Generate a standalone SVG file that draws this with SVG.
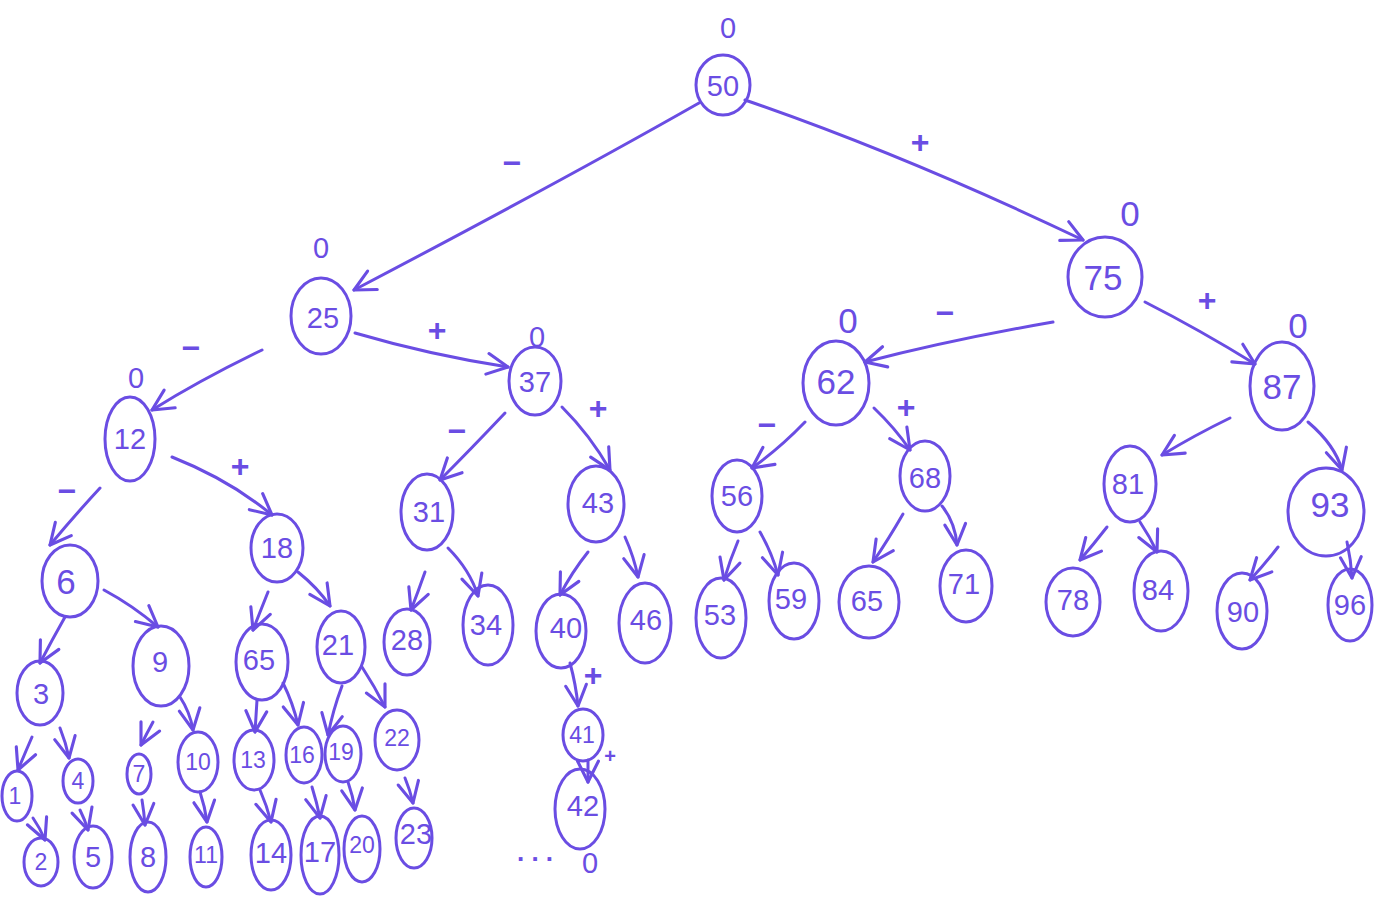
<svg xmlns="http://www.w3.org/2000/svg" width="1381" height="909" viewBox="0 0 1381 909">
  <style>
    .nd ellipse { fill: none; stroke: #6a4de3; stroke-width: 3; }
    .nd text, .lbl, .bal { font-family: "Liberation Sans", "DejaVu Sans", sans-serif; fill: #6a4de3; text-anchor: middle; dominant-baseline: central; }
    .nd text { font-size: 29px; }
    .nd.lg text { font-size: 35px; }
    .nd.sm text { font-size: 23px; }
    .bal { font-size: 24px; }
    .lbl { font-size: 32px; font-weight: bold; }
    #edges path { fill: none; stroke: #6a4de3; stroke-width: 3; stroke-linecap: round; marker-end: url(#v); }
  </style>
  <defs>
    <marker id="v" viewBox="0 0 20 20" refX="18" refY="10" markerWidth="26" markerHeight="26" markerUnits="userSpaceOnUse" orient="auto">
      <path d="M2,2 L18,10 L2,18" fill="none" stroke="#6a4de3" stroke-width="2.4" stroke-linecap="round" stroke-linejoin="round"/>
    </marker>
  </defs>
  <rect width="1381" height="909" fill="#ffffff"/>

  <!-- connectors -->
  <g id="edges">
    <path d="M699,103 Q560,182 354,290"/>
    <path d="M745,100 Q905,155 1083,240"/>
    <path d="M262,350 Q200,380 152,410"/>
    <path d="M355,333 Q430,355 508,367"/>
    <path d="M1053,322 Q950,340 865,362"/>
    <path d="M1145,302 Q1200,330 1255,364"/>
    <path d="M100,488 Q75,515 50,545"/>
    <path d="M172,457 Q230,480 272,515"/>
    <path d="M505,413 Q470,450 440,480"/>
    <path d="M562,407 Q590,435 610,470"/>
    <path d="M805,422 Q780,448 752,468"/>
    <path d="M874,408 Q895,428 910,450"/>
    <path d="M1230,418 Q1195,435 1162,455"/>
    <path d="M1308,422 Q1335,445 1342,470"/>
    <path d="M65,617 Q52,640 40,663"/>
    <path d="M104,590 Q132,605 158,627"/>
    <path d="M268,592 Q260,612 253,630"/>
    <path d="M298,572 Q318,588 330,606"/>
    <path d="M425,572 Q418,592 411,610"/>
    <path d="M448,548 Q470,570 478,596"/>
    <path d="M588,552 Q572,572 560,595"/>
    <path d="M625,537 Q634,557 638,577"/>
    <path d="M738,541 Q730,560 724,580"/>
    <path d="M760,532 Q772,553 778,575"/>
    <path d="M903,514 Q888,540 873,562"/>
    <path d="M942,506 Q955,522 957,545"/>
    <path d="M1107,527 Q1093,545 1080,560"/>
    <path d="M1140,522 Q1150,537 1157,552"/>
    <path d="M1278,547 Q1264,565 1250,580"/>
    <path d="M1347,542 Q1351,560 1352,578"/>
    <path d="M32,737 Q25,753 18,770"/>
    <path d="M60,728 Q66,743 69,758"/>
    <path d="M153,722 Q147,733 141,745"/>
    <path d="M180,697 Q190,712 193,730"/>
    <path d="M257,700 Q256,716 255,732"/>
    <path d="M283,683 Q293,703 298,725"/>
    <path d="M342,686 Q333,710 328,735"/>
    <path d="M362,667 Q375,687 385,707"/>
    <path d="M570,663 Q576,685 578,706"/>
    <path d="M588,760 Q588,770 588,782"/>
    <path d="M33,818 Q40,828 45,840"/>
    <path d="M80,810 Q85,820 88,830"/>
    <path d="M142,800 Q144,812 145,825"/>
    <path d="M200,792 Q205,807 207,822"/>
    <path d="M260,790 Q267,806 271,822"/>
    <path d="M312,787 Q317,803 320,818"/>
    <path d="M348,782 Q353,796 355,810"/>
    <path d="M405,778 Q410,790 413,803"/>
    <!-- branch signs -->
    <text class="lbl" x="512" y="163">−</text>
    <text class="lbl" x="920" y="142">+</text>
    <text class="lbl" x="191" y="348">−</text>
    <text class="lbl" x="437" y="330">+</text>
    <text class="lbl" x="67" y="491">−</text>
    <text class="lbl" x="240" y="466">+</text>
    <text class="lbl" x="457" y="431">−</text>
    <text class="lbl" x="598" y="408">+</text>
    <text class="lbl" x="945" y="313">−</text>
    <text class="lbl" x="1207" y="300">+</text>
    <text class="lbl" x="767" y="425">−</text>
    <text class="lbl" x="906" y="407">+</text>
    <text class="lbl" x="593" y="675">+</text>
    <text class="lbl" x="610" y="756" style="font-size:20px">+</text>
    <text class="lbl" x="535" y="852" style="font-size:26px">. . .</text>
  </g>

  <!-- nodes -->
  <g id="n50" class="nd"><ellipse cx="723" cy="85" rx="27" ry="30"/><text x="723" y="86">50</text><text class="bal" x="728" y="28">0</text></g>
  <g id="n25" class="nd"><ellipse cx="321" cy="316" rx="30" ry="38"/><text x="323" y="318">25</text><text class="bal" x="321" y="248">0</text></g>
  <g id="n75" class="nd lg"><ellipse cx="1105" cy="277" rx="37" ry="40"/><text x="1103" y="277">75</text><text class="bal" x="1130" y="213">0</text></g>
  <g id="n12" class="nd"><ellipse cx="130" cy="439" rx="25" ry="42"/><text x="130" y="439">12</text><text class="bal" x="136" y="378">0</text></g>
  <g id="n37" class="nd"><ellipse cx="535" cy="381" rx="26" ry="34"/><text x="535" y="382">37</text><text class="bal" x="537" y="337">0</text></g>
  <g id="n62" class="nd lg"><ellipse cx="836" cy="383" rx="33" ry="42"/><text x="836" y="381">62</text><text class="bal" x="848" y="320">0</text></g>
  <g id="n87" class="nd lg"><ellipse cx="1282" cy="386" rx="32" ry="44"/><text x="1282" y="386">87</text><text class="bal" x="1298" y="325">0</text></g>
  <g id="n6" class="nd lg"><ellipse cx="70" cy="581" rx="28" ry="36"/><text x="66" y="581">6</text></g>
  <g id="n18" class="nd"><ellipse cx="277" cy="548" rx="26" ry="34"/><text x="277" y="548">18</text></g>
  <g id="n31" class="nd"><ellipse cx="427" cy="512" rx="26" ry="38"/><text x="429" y="512">31</text></g>
  <g id="n43" class="nd"><ellipse cx="596" cy="504" rx="28" ry="38"/><text x="598" y="503">43</text></g>
  <g id="n56" class="nd"><ellipse cx="737" cy="496" rx="25" ry="36"/><text x="737" y="496">56</text></g>
  <g id="n68" class="nd"><ellipse cx="925" cy="476" rx="25" ry="35"/><text x="925" y="478">68</text></g>
  <g id="n81" class="nd"><ellipse cx="1130" cy="484" rx="26" ry="38"/><text x="1128" y="484">81</text></g>
  <g id="n93" class="nd lg"><ellipse cx="1326" cy="512" rx="38" ry="44"/><text x="1330" y="504">93</text></g>
  <g id="n3" class="nd"><ellipse cx="40" cy="693" rx="23" ry="32"/><text x="41" y="694">3</text></g>
  <g id="n9" class="nd"><ellipse cx="161" cy="666" rx="28" ry="40"/><text x="160" y="662">9</text></g>
  <g id="n65a" class="nd"><ellipse cx="262" cy="662" rx="26" ry="38"/><text x="259" y="660">65</text></g>
  <g id="n21" class="nd"><ellipse cx="341" cy="647" rx="24" ry="36"/><text x="338" y="645">21</text></g>
  <g id="n28" class="nd"><ellipse cx="407" cy="642" rx="23" ry="33"/><text x="407" y="640">28</text></g>
  <g id="n34" class="nd"><ellipse cx="488" cy="625" rx="25" ry="40"/><text x="486" y="625">34</text></g>
  <g id="n40" class="nd"><ellipse cx="561" cy="631" rx="25" ry="37"/><text x="566" y="628">40</text></g>
  <g id="n46" class="nd"><ellipse cx="645" cy="623" rx="26" ry="40"/><text x="646" y="620">46</text></g>
  <g id="n53" class="nd"><ellipse cx="721" cy="618" rx="25" ry="40"/><text x="720" y="615">53</text></g>
  <g id="n59" class="nd"><ellipse cx="794" cy="601" rx="25" ry="38"/><text x="791" y="599">59</text></g>
  <g id="n65b" class="nd"><ellipse cx="869" cy="602" rx="30" ry="36"/><text x="867" y="601">65</text></g>
  <g id="n71" class="nd"><ellipse cx="966" cy="586" rx="26" ry="36"/><text x="964" y="584">71</text></g>
  <g id="n78" class="nd"><ellipse cx="1073" cy="602" rx="27" ry="34"/><text x="1073" y="600">78</text></g>
  <g id="n84" class="nd"><ellipse cx="1161" cy="591" rx="27" ry="40"/><text x="1158" y="590">84</text></g>
  <g id="n90" class="nd"><ellipse cx="1242" cy="611" rx="25" ry="38"/><text x="1243" y="612">90</text></g>
  <g id="n96" class="nd"><ellipse cx="1350" cy="605" rx="22" ry="36"/><text x="1350" y="605">96</text></g>
  <g id="n1" class="nd sm"><ellipse cx="17" cy="796" rx="15" ry="25"/><text x="15" y="796">1</text></g>
  <g id="n4" class="nd sm"><ellipse cx="78" cy="781" rx="15" ry="22"/><text x="78" y="781">4</text></g>
  <g id="n7" class="nd sm"><ellipse cx="139" cy="774" rx="12" ry="20"/><text x="139" y="774">7</text></g>
  <g id="n10" class="nd sm"><ellipse cx="198" cy="762" rx="20" ry="30"/><text x="198" y="762">10</text></g>
  <g id="n13" class="nd sm"><ellipse cx="254" cy="760" rx="20" ry="30"/><text x="253" y="760">13</text></g>
  <g id="n16" class="nd sm"><ellipse cx="304" cy="755" rx="18" ry="28"/><text x="302" y="755">16</text></g>
  <g id="n19" class="nd sm"><ellipse cx="343" cy="754" rx="18" ry="28"/><text x="341" y="752">19</text></g>
  <g id="n22" class="nd sm"><ellipse cx="397" cy="740" rx="22" ry="30"/><text x="397" y="738">22</text></g>
  <g id="n41" class="nd sm"><ellipse cx="583" cy="735" rx="20" ry="26"/><text x="582" y="735">41</text></g>
  <g id="n42" class="nd"><ellipse cx="580" cy="809" rx="25" ry="40"/><text x="583" y="806">42</text><text class="bal" x="590" y="863">0</text></g>
  <g id="n2" class="nd sm"><ellipse cx="41" cy="862" rx="17" ry="24"/><text x="41" y="862">2</text></g>
  <g id="n5" class="nd"><ellipse cx="93" cy="857" rx="19" ry="31"/><text x="93" y="857">5</text></g>
  <g id="n8" class="nd"><ellipse cx="148" cy="857" rx="18" ry="35"/><text x="148" y="857">8</text></g>
  <g id="n11" class="nd sm"><ellipse cx="206" cy="857" rx="16" ry="30"/><text x="206" y="855">11</text></g>
  <g id="n14" class="nd"><ellipse cx="271" cy="855" rx="20" ry="35"/><text x="271" y="853">14</text></g>
  <g id="n17" class="nd"><ellipse cx="320" cy="855" rx="19" ry="39"/><text x="320" y="852">17</text></g>
  <g id="n20" class="nd sm"><ellipse cx="362" cy="849" rx="18" ry="33"/><text x="362" y="845">20</text></g>
  <g id="n23" class="nd"><ellipse cx="414" cy="838" rx="18" ry="30"/><text x="416" y="834">23</text></g>
</svg>
